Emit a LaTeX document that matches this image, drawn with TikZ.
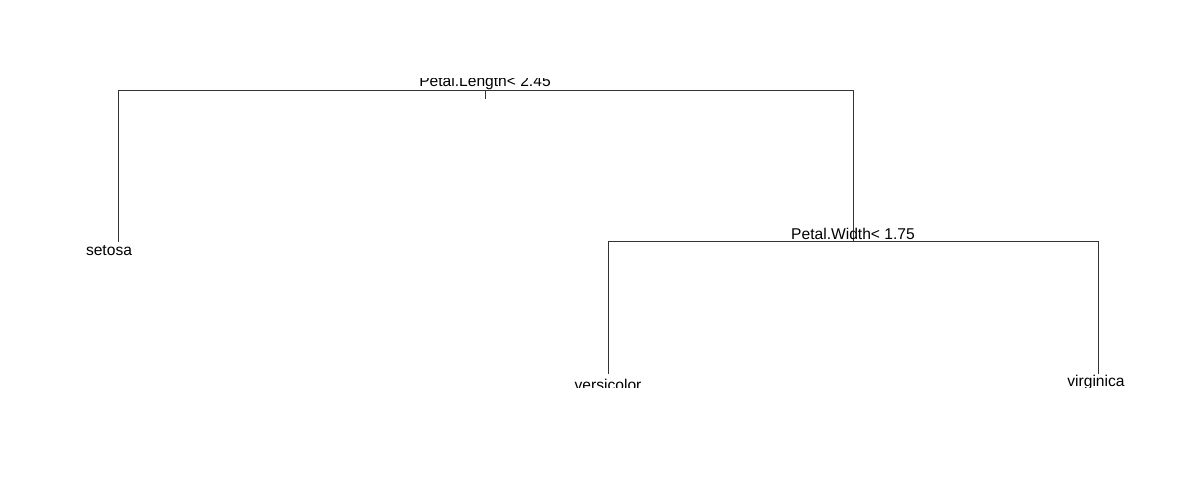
\documentclass[tikz,border=0pt]{standalone}
\usepackage{fontspec}
\setmainfont{Liberation Sans}

\begin{document}
\begin{tikzpicture}[x=0.75pt,y=-0.75pt]
\tikzset{feuille/.style={inner sep=0pt, anchor=base, font=\fontsize{11.7}{14}\selectfont}}
\tikzset{branche/.style={draw, line width=0.5pt, black!80}}
\useasboundingbox (0,0) rectangle (1178,484);
\clip (0,79) rectangle (1178,388);
\coordinate (R) at (485,90);
\coordinate (RG) at (118,90);
\coordinate (RD) at (853,90);
\coordinate (S) at (118,242);
\coordinate (N2) at (853,241);
\coordinate (N2G) at (608,241);
\coordinate (N2D) at (1098,241);
\coordinate (VE) at (608,374);
\coordinate (VI) at (1098,374);
\draw[branche] (R) -- ++(0,9);
\draw[branche] (S) -- (RG) -- (RD) -- (N2);
\draw[branche] (VE) -- (N2G) -- (N2D) -- (VI);
\node[feuille] (L1) at (485,87) {Petal.Length< 2.45};
\node[feuille] (L2) at (853,240) {Petal.Width< 1.75};
\node[feuille] (F1) at (109,256) {setosa};
\node[feuille] (F2) at (608,391) {versicolor};
\node[feuille] (F3) at (1096,387) {virginica};
\end{tikzpicture}
\end{document}
